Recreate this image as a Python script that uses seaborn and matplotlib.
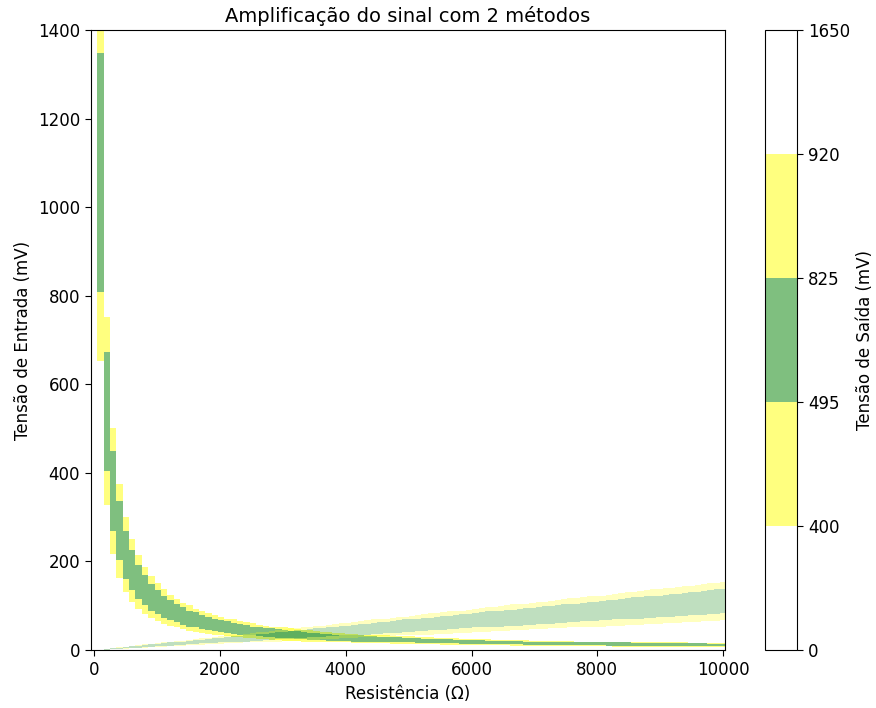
import numpy as np
import matplotlib
matplotlib.use("Agg")
import matplotlib.pyplot as plt
from matplotlib.colors import ListedColormap, BoundaryNorm, to_rgba
import seaborn as sns

sns.set_style("ticks", {"axes.edgecolor": "black", "text.color": "black",
                        "xtick.color": "black", "ytick.color": "black",
                        "axes.labelcolor": "black"})
plt.rcParams["font.family"] = ["DejaVu Sans"]
plt.rcParams["xtick.major.size"] = 4.5
plt.rcParams["ytick.major.size"] = 4.5

# Grid of the two inputs
resistencia = np.linspace(0, 10000, 100)     # ohm
tensao_entrada = np.linspace(0, 1400, 701)   # mV

# Gains of the two methods
ganho_metodo1 = 1 / 165.0    # Vout = Vin * R / 165
ganho_metodo2 = 60000.0      # Vout = Vin * 60000 / R

# Output-voltage bands (colorbar)
niveis = [0, 400, 495, 825, 920, 1650]
cores = ["white", "yellow", "green", "yellow", "white"]
alpha_metodo1 = 0.5
alpha_metodo2 = 0.25

titulo = "Amplificação do sinal com 2 métodos"
rotulo_x = "Resistência (Ω)"
rotulo_y = "Tensão de Entrada (mV)"
rotulo_cb = "Tensão de Saída (mV)"

R, V = np.meshgrid(resistencia, tensao_entrada)
with np.errstate(divide="ignore", invalid="ignore"):
    saida1 = V * R * ganho_metodo1
    saida2 = V * ganho_metodo2 / R
saida1 = np.ma.masked_invalid(saida1)
saida2 = np.ma.masked_invalid(saida2)


def mapa(alpha):
    lista = []
    for c in cores:
        r, g, b, _ = to_rgba(c)
        a = 0.0 if c == "white" else alpha
        lista.append((r, g, b, a))
    cm = ListedColormap(lista)
    cm.set_over((1, 1, 1, 0))
    cm.set_under((1, 1, 1, 0))
    cm.set_bad((1, 1, 1, 0))
    return cm


cmap1 = mapa(alpha_metodo1)
cmap2 = mapa(alpha_metodo2)
norm = BoundaryNorm(niveis, len(cores))

fig = plt.figure(figsize=(8.76, 7.08), dpi=100)
ax = fig.add_axes([91 / 876, 58 / 708, 634 / 876, 620 / 708])
cax = fig.add_axes([765 / 876, 58 / 708, 32 / 876, 620 / 708])

m1 = ax.pcolormesh(resistencia, tensao_entrada, saida1, cmap=cmap1, norm=norm,
                   shading="nearest")
m2 = ax.pcolormesh(resistencia, tensao_entrada, saida2, cmap=cmap2, norm=norm,
                   shading="nearest")

ax.set_xlim(-50, 10030)
ax.set_ylim(0, 1400)
ax.set_xticks([0, 2000, 4000, 6000, 8000, 10000])
ax.set_yticks([0, 200, 400, 600, 800, 1000, 1200, 1400])
ax.tick_params(labelsize=12)
ax.set_title(titulo, fontsize=14)
ax.set_xlabel(rotulo_x, fontsize=12)
ax.set_ylabel(rotulo_y, fontsize=12)

cb = fig.colorbar(m1, cax=cax, ticks=niveis)
cb.ax.tick_params(labelsize=12)
cb.set_label(rotulo_cb, fontsize=12)

fig.savefig("out.png", dpi=100)
